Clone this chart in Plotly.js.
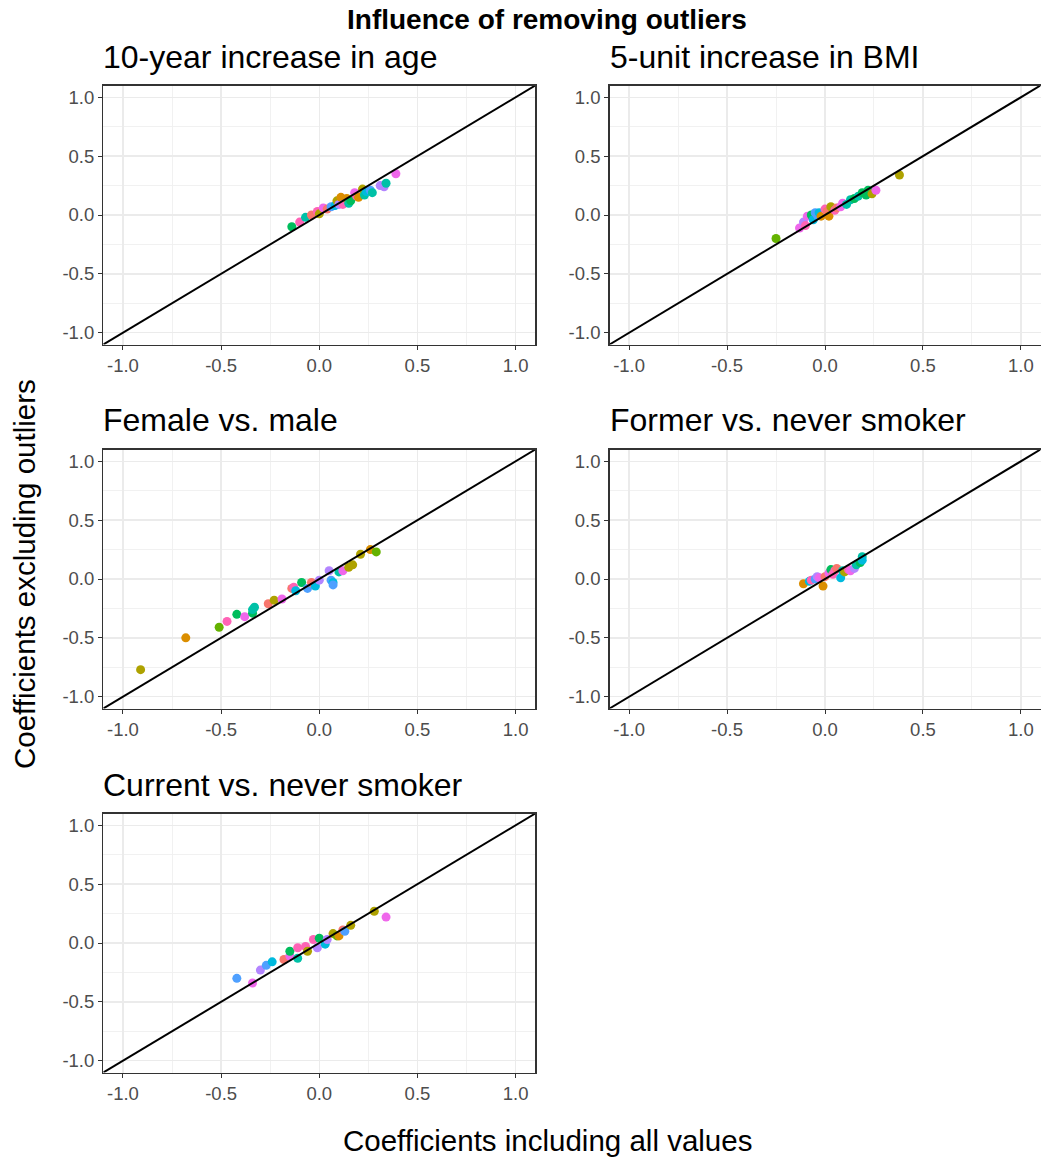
<!DOCTYPE html>
<html><head><meta charset="utf-8">
<script src="https://cdn.plot.ly/plotly-3.0.1.min.js"></script>
<style>html,body{margin:0;padding:0;background:#fff}#chart{width:1041px;height:1159px}</style>
</head><body><div id="chart"></div>
<script>
// ---- data ----
const panelTitles = ["10-year increase in age","5-unit increase in BMI","Female vs. male","Former vs. never smoker","Current vs. never smoker"];
const axisLimits = [-1.1, 1.1];
const tickValues = [-1.0, -0.5, 0.0, 0.5, 1.0];
const tickLabels = ["-1.0", "-0.5", "0.0", "0.5", "1.0"];

const ageX = [-0.14,-0.10,-0.07,-0.04,-0.01,0.00,0.02,0.04,0.06,0.08,0.09,0.10,0.11,0.12,0.14,0.15,0.16,0.18,0.19,0.20,0.22,0.23,0.24,0.26,0.27,0.31,0.33,0.34,0.39];
const ageY = [-0.10,-0.06,-0.02,0.00,0.03,0.01,0.06,0.05,0.07,0.08,0.12,0.09,0.15,0.09,0.14,0.10,0.12,0.19,0.16,0.15,0.22,0.17,0.20,0.21,0.19,0.25,0.24,0.27,0.35];
const ageG = [4,10,5,0,10,2,9,0,7,6,2,8,1,10,1,5,4,9,10,1,2,5,6,7,5,8,8,5,9];

const bmiX = [-0.25,-0.13,-0.11,-0.10,-0.09,-0.07,-0.06,-0.05,-0.04,-0.03,-0.02,0.00,0.01,0.02,0.03,0.05,0.06,0.08,0.09,0.11,0.13,0.15,0.17,0.19,0.21,0.22,0.24,0.26,0.38];
const bmiY = [-0.20,-0.11,-0.06,-0.09,-0.01,0.00,-0.04,0.02,0.00,0.02,-0.01,0.05,0.03,-0.01,0.07,0.04,0.06,0.07,0.10,0.09,0.13,0.14,0.16,0.19,0.17,0.21,0.18,0.21,0.34];
const bmiG = [3,9,8,10,9,4,6,7,7,6,1,10,0,1,2,10,0,9,9,5,5,4,5,4,4,4,2,9,2];

const femaleX = [-0.91,-0.68,-0.51,-0.47,-0.42,-0.38,-0.34,-0.34,-0.33,-0.26,-0.23,-0.19,-0.14,-0.13,-0.12,-0.09,-0.06,-0.04,-0.02,0.00,0.05,0.06,0.07,0.07,0.10,0.12,0.15,0.17,0.21,0.26,0.29];
const femaleY = [-0.77,-0.50,-0.41,-0.36,-0.30,-0.32,-0.29,-0.26,-0.24,-0.21,-0.18,-0.17,-0.08,-0.07,-0.10,-0.03,-0.08,-0.03,-0.06,-0.01,0.07,-0.01,-0.03,-0.05,0.06,0.07,0.10,0.12,0.21,0.25,0.23];
const femaleG = [2,1,3,10,4,9,4,5,5,0,2,9,0,10,6,4,7,0,6,8,8,7,6,7,5,9,2,2,2,1,3];

const formerX = [-0.11,-0.08,-0.07,-0.05,-0.04,-0.03,-0.01,0.00,0.02,0.03,0.04,0.05,0.06,0.08,0.09,0.10,0.12,0.13,0.15,0.16,0.18,0.19,0.19];
const formerY = [-0.04,-0.02,-0.01,0.00,0.02,0.01,-0.06,0.02,0.05,0.08,0.04,0.07,0.09,0.01,0.07,0.06,0.08,0.07,0.09,0.12,0.14,0.19,0.16];
const formerG = [1,6,10,7,8,9,1,0,9,4,10,10,0,6,5,2,10,9,8,5,4,5,6];

const currentX = [-0.42,-0.34,-0.30,-0.27,-0.24,-0.18,-0.15,-0.15,-0.11,-0.11,-0.07,-0.06,-0.03,-0.01,0.00,0.03,0.04,0.07,0.09,0.10,0.12,0.13,0.16,0.28,0.34];
const currentY = [-0.30,-0.34,-0.23,-0.19,-0.16,-0.14,-0.11,-0.07,-0.13,-0.04,-0.03,-0.07,0.03,-0.04,0.04,-0.01,0.03,0.08,0.06,0.06,0.11,0.10,0.15,0.27,0.22];
const currentG = [7,9,8,7,6,0,9,4,5,10,10,2,10,8,4,6,8,2,3,1,0,7,2,2,9];

// ---- styling ----
const palette = ["#F8766D","#DB8E00","#AEA200","#64B200","#00BD5C","#00C1A7","#00BADE","#4FA0FF","#B385FF","#EF67EB","#FF63B6"];
const W = 1041, H = 1159;
const boxes = [ // pixel boxes [x0,x1,y0,y1]
  [103.3,535.3,85.5,344.5],[609.5,1040.5,85.5,344.5],
  [103.3,535.3,449.5,708.5],[609.5,1040.5,449.5,708.5],
  [103.3,535.3,813.5,1072.5]
];
const panels = [[ageX,ageY,ageG],[bmiX,bmiY,bmiG],[femaleX,femaleY,femaleG],[formerX,formerY,formerG],[currentX,currentY,currentG]];
const FONT = "Liberation Sans, Arial, sans-serif";

const traces = [];
const layout = {
  width: W, height: H, margin:{l:0,r:0,t:0,b:0},
  paper_bgcolor:"#fff", plot_bgcolor:"#fff", showlegend:false,
  font:{family:FONT},
  annotations:[]
};
function axisStyle(domain, anchor){
  return {
    domain: domain, anchor: anchor, range: axisLimits.slice(),
    tickmode:"array", tickvals:tickValues, ticktext:tickLabels,
    showgrid:true, gridcolor:"#EBEBEB", gridwidth:1.5,
    minor:{tickmode:"linear", tick0:0.25, dtick:0.5, showgrid:true, gridcolor:"#EFEFEF", gridwidth:0.9, ticks:""},
    zeroline:false, showline:true, mirror:true, linecolor:"#333333", linewidth:1.3,
    ticks:"outside", ticklen:4, tickcolor:"#333333", tickwidth:1,
    tickfont:{family:FONT, size:18.5, color:"#4D4D4D"}, fixedrange:true
  };
}
panels.forEach((p,i)=>{
  const b = boxes[i];
  const xa = i===0 ? "xaxis" : "xaxis"+(i+1);
  const ya = i===0 ? "yaxis" : "yaxis"+(i+1);
  const xr = i===0 ? "x" : "x"+(i+1);
  const yr = i===0 ? "y" : "y"+(i+1);
  layout[xa] = axisStyle([b[0]/W, b[1]/W], yr);
  layout[ya] = axisStyle([1-b[3]/H, 1-b[2]/H], xr);
  traces.push({type:"scatter", mode:"markers", x:p[0], y:p[1], xaxis:xr, yaxis:yr,
    marker:{size:9, color:p[2].map(g=>palette[g]), line:{width:0}}, hoverinfo:"x+y"});
  traces.push({type:"scatter", mode:"lines", x:axisLimits, y:axisLimits, xaxis:xr, yaxis:yr,
    line:{color:"#000", width:2}, hoverinfo:"skip"});
  layout.annotations.push({text:panelTitles[i], xref:"paper", yref:"paper", x:(b[0]-1)/W, y:1-(b[2]-10)/H,
    xanchor:"left", yanchor:"bottom", showarrow:false, borderpad:0, font:{family:FONT, size:32, color:"#000"}});
});
layout.annotations.push({text:"<b>Influence of removing outliers</b>", xref:"paper", yref:"paper",
  x:547/W, y:1-20/H, xanchor:"center", yanchor:"middle", showarrow:false, font:{family:FONT, size:28, color:"#000"}});
layout.annotations.push({text:"Coefficients including all values", xref:"paper", yref:"paper",
  x:547/W, y:1-1140/H, xanchor:"center", yanchor:"middle", showarrow:false, font:{family:FONT, size:29.5, color:"#000"}});
layout.annotations.push({text:"Coefficients excluding outliers", xref:"paper", yref:"paper",
  x:24/W, y:1-574/H, xanchor:"center", yanchor:"middle", textangle:-90, showarrow:false, font:{family:FONT, size:29.5, color:"#000"}});

Plotly.newPlot("chart", traces, layout, {displayModeBar:false, staticPlot:true});
</script></body></html>
